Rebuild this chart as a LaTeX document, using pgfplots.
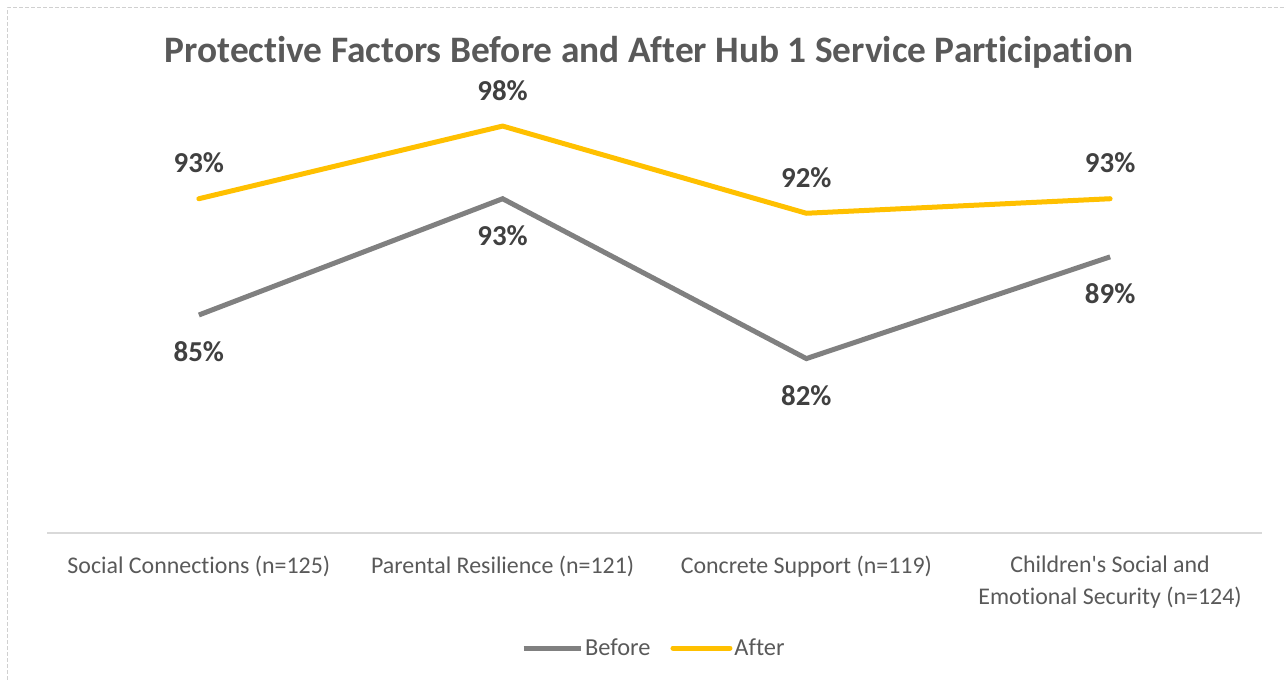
\documentclass[border=0pt]{standalone}
\usepackage{pgfplots}
\pgfplotsset{compat=1.18}
\usepackage{fontspec}
\setmainfont{Carlito}[Ligatures={NoCommon}]
\newfontfamily\plainfont{Carlito}
\definecolor{titlegray}{HTML}{595959}
\definecolor{labelgray}{HTML}{404040}
\definecolor{axisgray}{HTML}{D9D9D9}
\definecolor{bordergray}{HTML}{D0D0D0}
\definecolor{beforegray}{HTML}{808080}
\definecolor{aftergold}{HTML}{FFC000}
\begin{document}
\begin{tikzpicture}
\useasboundingbox (0bp,0bp) rectangle (1286bp,681bp);
\draw[bordergray, line width=1bp, dash pattern=on 4bp off 2bp] (7.5bp,-5bp) -- (7.5bp,673bp) -- (1300bp,673bp);
\node[anchor=base, text=titlegray, font=\fontsize{37.5}{44}\selectfont\bfseries] at (649bp,618bp)
  {Protective Factors Before and After Hub 1 Service Participation};
\begin{axis}[
  at={(47bp,148bp)}, anchor=south west,
  scale only axis, width=1215bp, height=436bp,
  xmin=-0.5, xmax=3.5, ymin=70, ymax=100,
  axis y line=none,
  axis x line*=bottom,
  x axis line style={draw=axisgray, line width=1.5bp, -},
  xtick={0,1,2,3},
  xticklabels={{Social Connections (n=125)},{Parental Resilience (n=121)},{Concrete Support (n=119)},{Children{\plainfont\char39}s Social and\\Emotional Security (n=124)}},
  xticklabel style={text width=295bp, align=flush center, anchor=north, text=titlegray,
    font=\fontsize{24}{32}\selectfont, yshift=-19bp},
  major tick length=0pt,
  clip=false,
  /pgf/number format/assume math mode=true,
  legend columns=2,
  legend style={at={(0.4995,-0.264)}, anchor=center, draw=none, fill=none,
    font=\fontsize{24.5}{29}\selectfont, text=titlegray,
    /tikz/every even column/.append style={column sep=18bp},
    inner sep=0pt},
  legend image code/.code={\draw[#1] (0bp,0bp) -- (57bp,0bp);},
  nodes near coords={\pgfmathprintnumber{\pgfplotspointmeta}\%},
  nodes near coords style={font=\fontsize{29}{34}\selectfont\bfseries, text=labelgray},
]
\addplot[beforegray, line width=5bp, line cap=butt, line join=miter,
  every node near coord/.append style={anchor=base, yshift=-47bp}]
  coordinates {(0,85) (1,93) (2,82) (3,89)};
\addlegendentry{Before}
\addplot[aftergold, line width=5bp, line cap=round, line join=round,
  every node near coord/.append style={anchor=base, yshift=26bp}]
  coordinates {(0,93) (1,98) (2,92) (3,93)};
\addlegendentry{After}
\end{axis}
\end{tikzpicture}
\end{document}
